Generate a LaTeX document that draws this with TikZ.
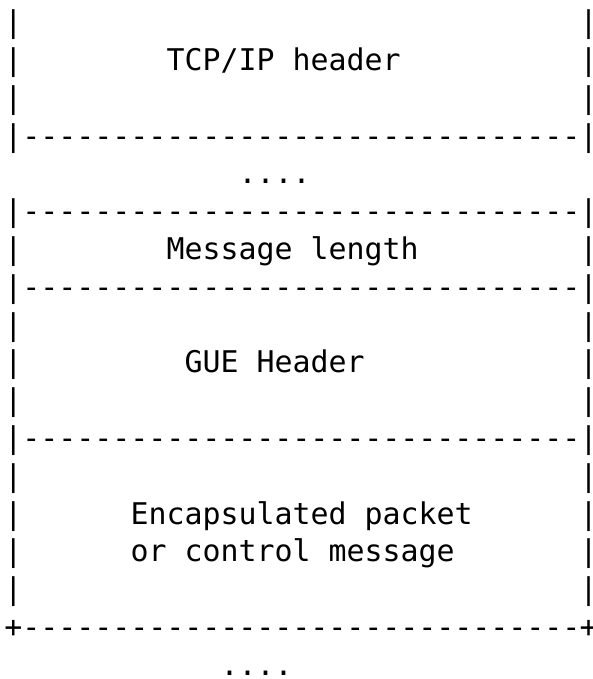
\documentclass[tikz,border=0pt]{standalone}
\usepackage{fontspec}
\setmonofont{DejaVu Sans Mono}
\begin{document}
\begin{tikzpicture}[x=1pt,y=-1pt,
  ascii/.style={font=\ttfamily\fontsize{29.9}{37.8}\selectfont, inner sep=0pt, outer sep=0pt, anchor=base west, text=black},
  edge/.style={font=\ttfamily\fontsize{29.9}{37.8}\selectfont, inner sep=0pt, outer sep=0pt, anchor=base, text=black}]
\fill[white] (0,0) rectangle (593,679);
\useasboundingbox (0,0) rectangle (593,679);
% row 0
\node[ascii] (l0) at (4.5,32.7) {|};
\node[edge] (r0) at (588.5,32.7) {\makebox[0pt]{|}};
% row 1
\node[ascii] (l1) at (4.5,70.5) {|};
\node[ascii] (tcp) at (166.5,70.5) {TCP/IP header};
\node[edge] (r1) at (588.5,70.5) {\makebox[0pt]{|}};
% row 2
\node[ascii] (l2) at (4.5,108.3) {|};
\node[edge] (r2) at (588.5,108.3) {\makebox[0pt]{|}};
% row 3
\node[ascii] (sep3) at (4.5,146.1) {|-------------------------------};
\node[edge] (r3) at (588.5,146.1) {\makebox[0pt]{|}};
% row 4
\node[ascii] (dots4) at (238.5,183.9) {....};
% row 5
\node[ascii] (sep5) at (4.5,221.7) {|-------------------------------};
\node[edge] (r5) at (588.5,221.7) {\makebox[0pt]{|}};
% row 6
\node[ascii] (l6) at (4.5,259.5) {|};
\node[ascii] (msglen) at (166.5,259.5) {Message length};
\node[edge] (r6) at (588.5,259.5) {\makebox[0pt]{|}};
% row 7
\node[ascii] (sep7) at (4.5,297.3) {|-------------------------------};
\node[edge] (r7) at (588.5,297.3) {\makebox[0pt]{|}};
% row 8
\node[ascii] (l8) at (4.5,335.1) {|};
\node[edge] (r8) at (588.5,335.1) {\makebox[0pt]{|}};
% row 9
\node[ascii] (l9) at (4.5,372.9) {|};
\node[ascii] (gue) at (184.5,372.9) {GUE Header};
\node[edge] (r9) at (588.5,372.9) {\makebox[0pt]{|}};
% row 10
\node[ascii] (l10) at (4.5,410.7) {|};
\node[edge] (r10) at (588.5,410.7) {\makebox[0pt]{|}};
% row 11
\node[ascii] (sep11) at (4.5,448.5) {|-------------------------------};
\node[edge] (r11) at (588.5,448.5) {\makebox[0pt]{|}};
% row 12
\node[ascii] (l12) at (4.5,486.3) {|};
\node[edge] (r12) at (588.5,486.3) {\makebox[0pt]{|}};
% row 13
\node[ascii] (l13) at (4.5,524.1) {|};
\node[ascii] (encap) at (130.5,524.1) {Encapsulated packet};
\node[edge] (r13) at (588.5,524.1) {\makebox[0pt]{|}};
% row 14
\node[ascii] (l14) at (4.5,561.9) {|};
\node[ascii] (ctrl) at (130.5,561.9) {or control message};
\node[edge] (r14) at (588.5,561.9) {\makebox[0pt]{|}};
% row 15
\node[ascii] (l15) at (4.5,599.7) {|};
\node[edge] (r15) at (588.5,599.7) {\makebox[0pt]{|}};
% row 16
\node[ascii] (sep16) at (4.5,637.5) {+-------------------------------};
\node[edge] (r16) at (588.5,637.5) {\makebox[0pt]{+}};
% row 17
\node[ascii] (dots17) at (220.5,675.3) {....};
\end{tikzpicture}
\end{document}
